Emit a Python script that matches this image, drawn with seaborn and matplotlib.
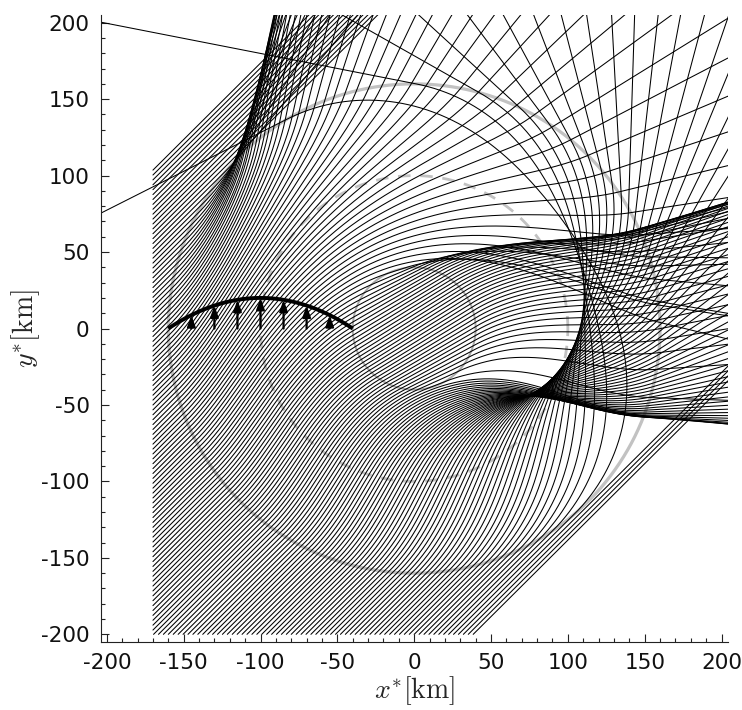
import numpy as np
import pandas as pd
import matplotlib
matplotlib.use("Agg")
import matplotlib.pyplot as plt
import seaborn as sns

# ---- data ----
# azimuthal current profile (arrows drawn at y=0 on the left side of the eddy)
prof_r = np.array([40, 55, 70, 85, 100, 115, 130, 145, 160], float)   # km
prof_v = np.array([0, 8.75, 15, 18.75, 20, 18.75, 15, 8.75, 0], float)  # arrow length (km on plot)
arrow_r = np.array([55, 70, 85, 100, 115, 130, 145], float)
# reference circles
circle_inner, circle_mid, circle_outer = 40.0, 100.0, 160.0
# ray launch: incoming direction 45 deg, launched on x=-170 and y=-200
launch_x, launch_y = -170.0, -200.0
offset_min, offset_max, offset_step = -238.4, 275.0, 3.2   # offset = y0 - x0
current_ratio = 0.26      # peak current / group speed
ticks_major = [-200, -150, -100, -50, 0, 50, 100, 150, 200]

coef = np.polyfit(prof_r, prof_v, 2)
dcoef = np.polyder(coef)
vmax = prof_v.max()


def field(x, y):
    r = np.hypot(x, y) + 1e-9
    inside = (r > prof_r[0]) & (r < prof_r[-1])
    v = np.where(inside, np.polyval(coef, r), 0.0) * current_ratio / vmax
    vp = np.where(inside, np.polyval(dcoef, r), 0.0) * current_ratio / vmax
    # clockwise rotation
    U = v * y / r
    V = -v * x / r
    Ux = x * y / r**2 * (vp - v / r)
    Uy = vp * y**2 / r**2 + v * x**2 / r**3
    Vx = -(vp * x**2 / r**2 + v * y**2 / r**3)
    Vy = -x * y / r**2 * (vp - v / r)
    return U, V, Ux, Uy, Vx, Vy


def rhs(st):
    x, y, kx, ky = st
    U, V, Ux, Uy, Vx, Vy = field(x, y)
    k = np.hypot(kx, ky)
    cg = 1 / np.sqrt(k)
    return np.array([cg * kx / k + U, cg * ky / k + V,
                     -(kx * Ux + ky * Vx), -(kx * Uy + ky * Vy)])


offsets = np.arange(offset_min, offset_max + 0.01, offset_step)
x0 = np.where(offsets >= launch_y - launch_x, launch_x, launch_y - offsets)
y0 = np.where(offsets >= launch_y - launch_x, launch_x + offsets, launch_y)
st = np.array([x0, y0, np.full_like(x0, np.sqrt(0.5)), np.full_like(x0, np.sqrt(0.5))])
dt = 0.7
pts = [st[:2].copy()]
for i in range(1400):
    k1 = rhs(st)
    k2 = rhs(st + dt / 2 * k1)
    k3 = rhs(st + dt / 2 * k2)
    k4 = rhs(st + dt * k3)
    st = st + dt / 6 * (k1 + 2 * k2 + 2 * k3 + k4)
    pts.append(st[:2].copy())
P = np.array(pts)

frames = []
for j in range(P.shape[2]):
    px, py = P[:, 0, j], P[:, 1, j]
    outb = (np.abs(px) > 212) | (np.abs(py) > 212)
    idx = int(np.argmax(outb)) if outb.any() else len(px) - 1
    frames.append(pd.DataFrame({"x": px[:idx + 1], "y": py[:idx + 1], "ray": j}))
rays = pd.concat(frames, ignore_index=True)

# ---- figure ----
sns.set_theme(style="ticks")
plt.rcParams["font.family"] = ["DejaVu Sans"]
plt.rcParams["mathtext.fontset"] = "cm"
plt.rcParams["axes.unicode_minus"] = False

fig = plt.figure(figsize=(7.42, 7.10), dpi=100)
ax = fig.add_axes([0.1357, 0.0958, 0.845, 0.883])

t = np.linspace(0, 2 * np.pi, 400)
ax.plot(circle_outer * np.cos(t), circle_outer * np.sin(t), color="#c2c2c2", lw=2.3, zorder=1)
ax.plot(circle_mid * np.cos(t), circle_mid * np.sin(t), color="#c2c2c2", lw=2.0,
        dashes=(4.5, 3.5), zorder=1)
ax.plot(circle_inner * np.cos(t), circle_inner * np.sin(t), color="#aaaaaa", lw=1.4, zorder=1)

sns.lineplot(data=rays, x="x", y="y", units="ray", estimator=None, sort=False,
             color="black", lw=0.75, ax=ax, zorder=2)

rr = np.linspace(prof_r[0], prof_r[-1], 100)
ax.plot(-rr, np.polyval(coef, rr), color="black", lw=2.8, solid_capstyle="butt", zorder=4)
for r, v in zip(arrow_r, np.interp(arrow_r, prof_r, prof_v)):
    ax.annotate("", xy=(-r, v), xytext=(-r, 0),
                arrowprops=dict(arrowstyle="-|>,head_length=0.55,head_width=0.2",
                                color="black", lw=1.6, shrinkA=0, shrinkB=0), zorder=4)

ax.set_xlim(-204, 204)
ax.set_ylim(-205, 205)
ax.set_xticks(ticks_major)
ax.set_yticks(ticks_major)
ax.set_xticks(np.arange(-200, 201, 10), minor=True)
ax.set_yticks(np.arange(-200, 201, 10), minor=True)
ax.tick_params(which="both", direction="in", width=0.8, color="#222222")
ax.tick_params(which="major", length=6, labelsize=15.5, pad=8, labelcolor="#111111")
ax.tick_params(which="minor", length=3)
for s in ("top", "right"):
    ax.spines[s].set_visible(False)
for s in ("left", "bottom"):
    ax.spines[s].set_linewidth(0.8)
    ax.spines[s].set_color("#222222")
ax.set_xlabel(r"$x^{*}[\mathrm{km}]$", fontsize=20, labelpad=1)
ax.set_ylabel(r"$y^{*}[\mathrm{km}]$", fontsize=20, labelpad=-1)

fig.savefig("out.png", dpi=100)
